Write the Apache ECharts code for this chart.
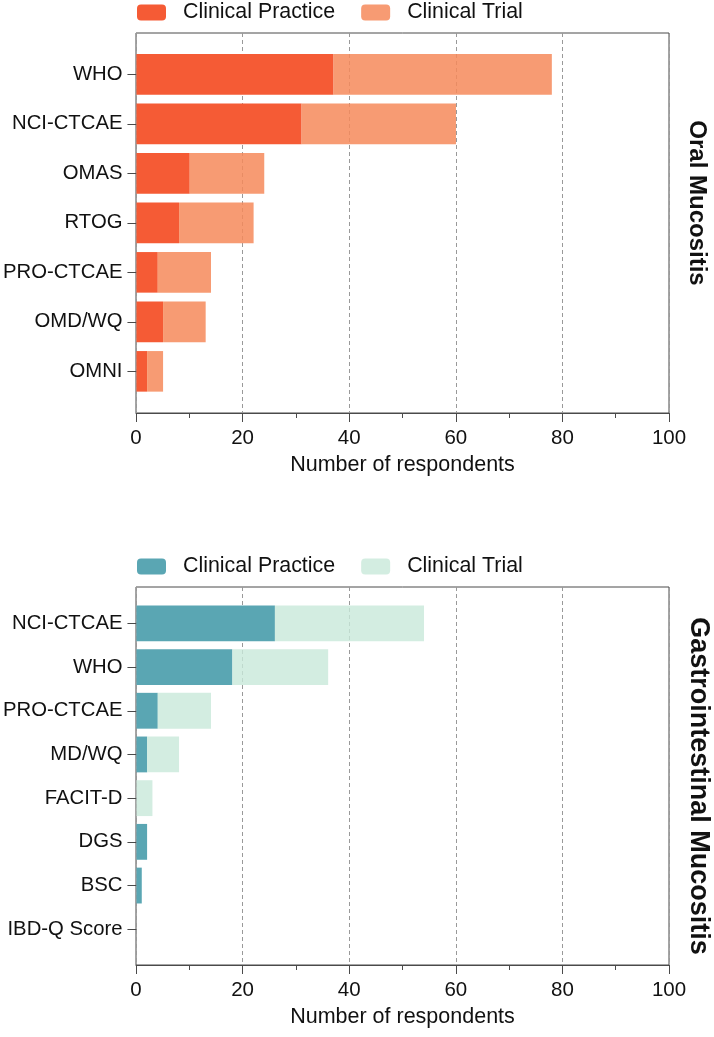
<!DOCTYPE html>
<html>
<head>
<meta charset="utf-8">
<script src="https://cdn.jsdelivr.net/npm/echarts@6/dist/echarts.min.js"></script>
<style>
html,body{margin:0;padding:0;background:#fff;}
#c{width:714px;height:1037px;}
</style>
</head>
<body>
<div id="c"></div>
<script>
// ---- data ----
var oralCategories = ['WHO', 'NCI-CTCAE', 'OMAS', 'RTOG', 'PRO-CTCAE', 'OMD/WQ', 'OMNI'];
var oralPractice = [37, 31, 10, 8, 4, 5, 2];
var oralTrial = [41, 29, 14, 14, 10, 8, 3];

var giCategories = ['NCI-CTCAE', 'WHO', 'PRO-CTCAE', 'MD/WQ', 'FACIT-D', 'DGS', 'BSC', 'IBD-Q Score'];
var giPractice = [26, 18, 4, 2, 0, 2, 1, 0];
var giTrial = [28, 18, 10, 6, 3, 0, 0, 0];

var xTicks = [0, 20, 40, 60, 80, 100];
var xTitle = 'Number of respondents';
var panelTitles = ['Oral Mucositis', 'Gastrointestinal Mucositis'];

// ---- chart ----
var FONT = "'Liberation Sans', Arial, Helvetica, sans-serif";
var chart = echarts.init(document.getElementById('c'), null, {renderer: 'canvas'});

var L = 136, R = 714 - 669;
// frame grids (0: oral, 1: GI), bar grids (2: oral, 3: GI)
var grids = [
  {left: L, right: R, top: 33, height: 380, show: true, borderColor: '#4a4a4a', borderWidth: 1, backgroundColor: 'transparent'},
  {left: L, right: R, top: 587, height: 378, show: true, borderColor: '#4a4a4a', borderWidth: 1, backgroundColor: 'transparent'},
  {left: L, right: R, top: 49.6, height: 346.5},
  {left: L, right: R, top: 601.5, height: 349.6}
];

function frameX(gi) {
  return {
    type: 'value', gridIndex: gi, min: xTicks[0], max: xTicks[xTicks.length - 1],
    interval: xTicks[1] - xTicks[0],
    name: xTitle, nameLocation: 'middle', nameGap: 41,
    nameTextStyle: {fontFamily: FONT, fontSize: 21.5, color: '#111'},
    axisLine: {show: true, lineStyle: {color: '#4a4a4a', width: 1}},
    axisTick: {show: true, length: 9, lineStyle: {color: '#4a4a4a'}},
    minorTick: {show: true, splitNumber: 2, length: 5, lineStyle: {color: '#4a4a4a'}},
    axisLabel: {fontFamily: FONT, fontSize: 20.5, color: '#111', margin: 15},
    splitLine: {show: true, lineStyle: {color: '#999', type: [4, 3], width: 1}}
  };
}
function hiddenX(gi) {
  return {type: 'value', gridIndex: gi, min: xTicks[0], max: xTicks[xTicks.length - 1], show: false};
}
function catY(gi, cats) {
  return {
    type: 'category', gridIndex: gi, data: cats, inverse: true,
    axisLine: {show: false},
    axisTick: {show: true, alignWithLabel: true, length: 9, lineStyle: {color: '#4a4a4a'}},
    axisLabel: {fontFamily: FONT, fontSize: 20.3, color: '#111', margin: 14}
  };
}

var option = {
  backgroundColor: '#fff',
  animation: false,
  grid: grids,
  xAxis: [frameX(0), frameX(1), hiddenX(2), hiddenX(3)],
  yAxis: [
    {type: 'value', gridIndex: 0, show: false},
    {type: 'value', gridIndex: 1, show: false},
    catY(2, oralCategories),
    catY(3, giCategories)
  ],
  legend: [
    {
      data: ['Clinical Practice', 'Clinical Trial'],
      left: 132, top: -3, itemWidth: 29, itemHeight: 16, itemGap: 26,
      textStyle: {fontFamily: FONT, fontSize: 21.4, color: '#111', padding: [0, 0, 0, 12]}
    },
    {
      data: ['GI Clinical Practice', 'GI Clinical Trial'],
      formatter: function (n) { return n.replace('GI ', ''); },
      left: 132, top: 551, itemWidth: 29, itemHeight: 16, itemGap: 26,
      textStyle: {fontFamily: FONT, fontSize: 21.4, color: '#111', padding: [0, 0, 0, 12]}
    }
  ],
  graphic: [
    {type: 'text', x: 697, y: 203, rotation: -Math.PI / 2,
     style: {text: panelTitles[0], font: 'bold 24px ' + FONT, fill: '#111', textAlign: 'center', textVerticalAlign: 'middle'}},
    {type: 'text', x: 698, y: 786, rotation: -Math.PI / 2,
     style: {text: panelTitles[1], font: 'bold 27px ' + FONT, fill: '#111', textAlign: 'center', textVerticalAlign: 'middle'}}
  ],
  series: [
    {name: 'Clinical Practice', type: 'bar', stack: 'oral', xAxisIndex: 2, yAxisIndex: 2,
     data: oralPractice, barCategoryGap: '18%', itemStyle: {color: '#F55B35'}},
    {name: 'Clinical Trial', type: 'bar', stack: 'oral', xAxisIndex: 2, yAxisIndex: 2,
     data: oralTrial, barCategoryGap: '18%', itemStyle: {color: 'rgba(246,138,90,0.85)'}},
    {name: 'GI Clinical Practice', type: 'bar', stack: 'gi', xAxisIndex: 3, yAxisIndex: 3,
     data: giPractice, barCategoryGap: '18%', itemStyle: {color: '#5AA6B3'}},
    {name: 'GI Clinical Trial', type: 'bar', stack: 'gi', xAxisIndex: 3, yAxisIndex: 3,
     data: giTrial, barCategoryGap: '18%', itemStyle: {color: 'rgba(200,232,218,0.8)'}}
  ]
};
chart.setOption(option);
</script>
</body>
</html>
